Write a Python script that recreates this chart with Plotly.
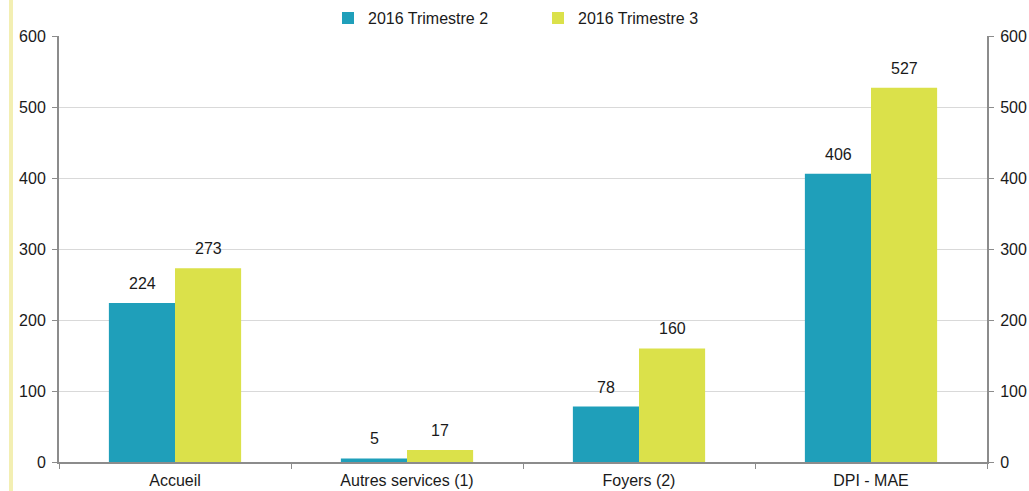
import plotly.graph_objects as go

categories = ["Accueil", "Autres services (1)", "Foyers (2)", "DPI - MAE"]
t2 = [224, 5, 78, 406]
t3 = [273, 17, 160, 527]
series_names = ["2016 Trimestre 2", "2016 Trimestre 3"]
tick_vals = [0, 100, 200, 300, 400, 500, 600]

BLUE = "#1f9fba"
YELLOW = "#dbe14a"
FONT = "Liberation Sans, Arial, sans-serif"
TXT = "#1a1a1a"

W, H = 1029, 491
L, T, R, B = 59, 36, 42, 29
PW = W - L - R

fig = go.Figure()
for name, vals, col in [(series_names[0], t2, BLUE), (series_names[1], t3, YELLOW)]:
    fig.add_trace(go.Bar(
        x=categories, y=vals, name=name, marker=dict(color=col, line=dict(width=0)),
    ))
# invisible trace for right axis
fig.add_trace(go.Scatter(x=categories, y=t2, yaxis="y2", mode="markers",
                         marker=dict(opacity=0), showlegend=False, hoverinfo="skip"))

# value labels
for vals, shift in [(t2, -33), (t3, 33)]:
    for c, v in zip(categories, vals):
        fig.add_annotation(x=c, y=v, text=str(v), showarrow=False, xshift=shift,
                           yshift=9, yanchor="bottom",
                           font=dict(size=16, color=TXT, family=FONT))

axis_common = dict(range=[0, 600], tickvals=tick_vals, ticks="outside", ticklen=5,
                   tickcolor="#8c8c8c", linecolor="#8c8c8c", showline=True, linewidth=2,
                   tickfont=dict(size=16, color=TXT, family=FONT), zeroline=False,
                   automargin=False, ticklabelstandoff=3)

fig.update_layout(
    width=W, height=H,
    margin=dict(l=L, r=R, t=T, b=B, autoexpand=False),
    plot_bgcolor="white", paper_bgcolor="white",
    barmode="group", bargap=0.43, bargroupgap=0,
    font=dict(family=FONT, size=16, color=TXT),
    xaxis=dict(showline=True, linecolor="#8c8c8c", linewidth=2, ticks="outside",
               tickson="boundaries", ticklen=5, tickcolor="#8c8c8c", automargin=False,
               ticklabelstandoff=3,
               tickfont=dict(size=16, color=TXT, family=FONT)),
    yaxis=dict(**axis_common, showgrid=True, gridcolor="#d9d9d9", gridwidth=1),
    yaxis2=dict(**axis_common, overlaying="y", side="right", showgrid=False),
    legend=dict(orientation="h", x=(328 - L) / PW, xanchor="left", y=1.042, yanchor="middle",
                font=dict(size=16, family=FONT, color=TXT), entrywidth=165,
                itemwidth=30, bgcolor="rgba(0,0,0,0)"),
    shapes=[dict(type="rect", xref="paper", yref="paper",
                 x0=(9 - L) / PW, x1=(13 - L) / PW, y0=-0.2, y1=1.2,
                 fillcolor="#f3efb3", line=dict(width=0), layer="above")],
)

fig.write_html("out.html", config={"displayModeBar": False},
               post_script="document.body.style.margin='0';document.body.style.overflow='hidden';")
